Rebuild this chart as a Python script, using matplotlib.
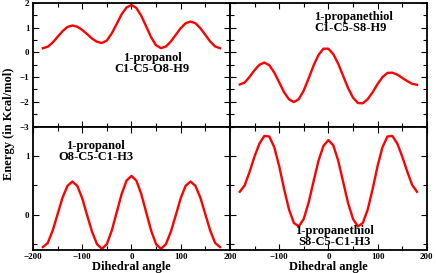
import matplotlib
matplotlib.use('Agg')
import matplotlib.pyplot as plt
from matplotlib.ticker import MultipleLocator

# dihedral angle grid, read every 10 degrees
angle = list(range(-180, 181, 10))

# 1-propanol C1-C5-O8-H9
prop_oh = [0.17, 0.23, 0.40, 0.63, 0.86, 1.03, 1.09, 1.04, 0.91, 0.74, 0.56, 0.43, 0.38,
           0.48, 0.77, 1.15, 1.54, 1.82, 1.92, 1.80, 1.48, 1.05, 0.61, 0.29, 0.17,
           0.24, 0.44, 0.71, 0.98, 1.18, 1.25, 1.18, 0.98, 0.71, 0.44, 0.24, 0.17]

# 1-propanethiol C1-C5-S8-H9
thiol_sh = [-1.30, -1.22, -0.99, -0.72, -0.50, -0.41, -0.52, -0.81, -1.21, -1.61, -1.90, -2.01, -1.89,
            -1.54, -1.05, -0.53, -0.10, 0.15, 0.15, -0.07, -0.46, -0.95, -1.44, -1.83, -2.05,
            -2.06, -1.89, -1.61, -1.28, -1.00, -0.83, -0.82, -0.90, -1.03, -1.16, -1.27, -1.31]

# 1-propanol O8-C5-C1-H3
prop_ch3 = [-0.55, -0.48, -0.27, 0.01, 0.29, 0.49, 0.565, 0.49, 0.28, -0.01, -0.29, -0.50, -0.58,
            -0.50, -0.27, 0.04, 0.35, 0.58, 0.66, 0.58, 0.35, 0.04, -0.27, -0.50, -0.58,
            -0.50, -0.29, -0.01, 0.28, 0.49, 0.565, 0.49, 0.29, 0.01, -0.27, -0.48, -0.55]

# 1-propanethiol S8-C5-C1-H3
thiol_ch3 = [0.39, 0.50, 0.73, 0.99, 1.21, 1.34, 1.33, 1.15, 0.83, 0.44, 0.09, -0.14, -0.20,
             -0.07, 0.21, 0.57, 0.92, 1.17, 1.27, 1.18, 0.92, 0.56, 0.20, -0.07, -0.20,
             -0.14, 0.09, 0.44, 0.83, 1.15, 1.33, 1.34, 1.21, 0.99, 0.74, 0.51, 0.39]

labels = ['1-propanol\nC1-C5-O8-H9', '1-propanethiol\nC1-C5-S8-H9',
          '1-propanol\nO8-C5-C1-H3', '1-propanethiol\nS8-C5-C1-H3']

plt.rcParams['font.family'] = 'Liberation Serif'
plt.rcParams['font.weight'] = 'bold'

fig, axs = plt.subplots(2, 2, figsize=(4.36, 2.73), dpi=100)
fig.subplots_adjust(left=0.0757, right=0.979, top=0.989, bottom=0.0842,
                    wspace=0, hspace=0)

series = [prop_oh, thiol_sh, prop_ch3, thiol_ch3]
for ax, vals in zip(axs.flat, series):
    ax.plot(angle, vals, color='red', lw=1.7, solid_joinstyle='round')
    ax.set_xlim(-200, 200)
    ax.xaxis.set_major_locator(MultipleLocator(100))
    ax.xaxis.set_minor_locator(MultipleLocator(50))
    ax.yaxis.set_major_locator(MultipleLocator(1))
    ax.yaxis.set_minor_locator(MultipleLocator(0.5))
    ax.tick_params(which='both', direction='in', top=True, right=True,
                   labelsize=6.5, pad=2.5, width=0.8)
    ax.tick_params(which='major', length=4)
    ax.tick_params(which='minor', length=3)
    for s in ax.spines.values():
        s.set_linewidth(1.3)

for ax in axs[0]:
    ax.set_ylim(-3, 2)
    ax.tick_params(labelbottom=False)
for ax in axs[1]:
    ax.set_ylim(-0.6, 1.5)
    ax.set_xlabel('Dihedral angle', fontsize=9, fontweight='bold', labelpad=-0.5)
for ax in axs[:, 1]:
    ax.tick_params(labelleft=False)
axs[1, 1].set_xticks([-100, 0, 100, 200])

axs[0, 0].text(42, -0.45, labels[0], ha='center', va='center', fontsize=9, linespacing=0.9)
axs[0, 1].text(-29, 1.22, labels[1], ha='left', va='center', fontsize=9, linespacing=0.9)
axs[1, 0].text(-73, 1.08, labels[2], ha='center', va='center', fontsize=9, linespacing=0.9)
axs[1, 1].text(13, -0.37, labels[3], ha='center', va='center', fontsize=9, linespacing=0.9)

fig.text(0.02, 0.546, 'Energy (in Kcal/mol)', rotation=90, ha='center', va='center',
         fontsize=9, fontweight='bold')

fig.savefig('out.png', dpi=100)
